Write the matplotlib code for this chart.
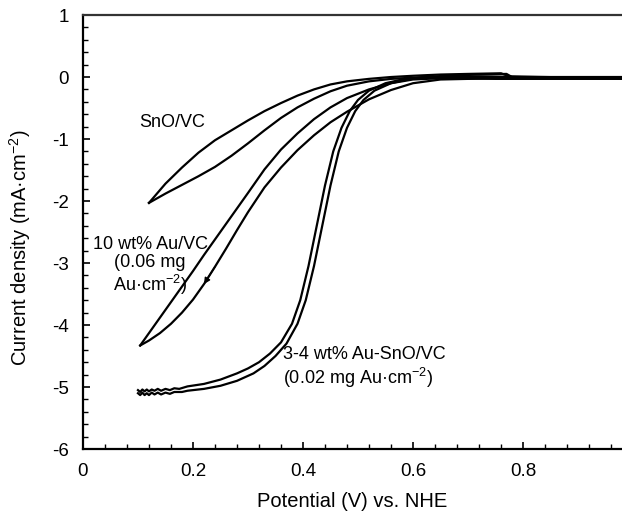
"""Linear sweep voltammograms (ORR) for SnO/VC, 10 wt% Au/VC and 3-4 wt% Au-SnO/VC
   -each loop is drawn as its two sweep branches, tip to the plateau
"""
import matplotlib
matplotlib.use('Agg')
import matplotlib.pyplot as plt
from matplotlib.ticker import MultipleLocator

plt.rcParams['font.family'] = ['Liberation Sans', 'DejaVu Sans']
plt.rcParams['mathtext.fontset'] = 'custom'
plt.rcParams['mathtext.rm'] = 'Liberation Sans'
plt.rcParams['axes.unicode_minus'] = False

#
##DATA (Potential V vs NHE, current density mA/cm2)
sno_up_V = [0.12, 0.15, 0.18, 0.21, 0.24, 0.27, 0.30, 0.33, 0.36, 0.39, 0.42, 0.45, 0.48,
            0.52, 0.56, 0.60, 0.65, 0.70, 0.76, 0.775, 0.85, 0.98]
sno_up_J = [-2.03, -1.72, -1.46, -1.22, -1.02, -0.86, -0.70, -0.55, -0.42, -0.30, -0.20, -0.12,
            -0.07, -0.03, 0.0, 0.02, 0.04, 0.05, 0.06, 0.01, 0.0, 0.0]
sno_lo_V = [0.12, 0.15, 0.18, 0.21, 0.24, 0.27, 0.30, 0.33, 0.36, 0.39, 0.42, 0.45, 0.48,
            0.52, 0.56, 0.60, 0.65, 0.72, 0.80, 0.98]
sno_lo_J = [-2.03, -1.88, -1.74, -1.60, -1.45, -1.27, -1.07, -0.86, -0.66, -0.49, -0.35, -0.23,
            -0.14, -0.07, -0.03, -0.01, 0.0, 0.01, 0.0, -0.01]

au_up_V = [0.104, 0.12, 0.14, 0.16, 0.18, 0.20, 0.22, 0.24, 0.26, 0.28, 0.30, 0.33, 0.36, 0.39,
           0.42, 0.45, 0.48, 0.52, 0.56, 0.60, 0.65, 0.75, 0.98]
au_up_J = [-4.33, -4.13, -3.88, -3.63, -3.38, -3.13, -2.87, -2.62, -2.37, -2.12, -1.87, -1.49,
           -1.17, -0.91, -0.68, -0.49, -0.34, -0.20, -0.10, -0.04, -0.02, -0.01, -0.01]
au_lo_V = [0.104, 0.12, 0.14, 0.16, 0.18, 0.20, 0.22, 0.24, 0.26, 0.28, 0.30, 0.33, 0.36, 0.39,
           0.42, 0.45, 0.48, 0.52, 0.56, 0.60, 0.65, 0.75, 0.98]
au_lo_J = [-4.33, -4.25, -4.13, -3.98, -3.80, -3.59, -3.34, -3.06, -2.77, -2.47, -2.18, -1.78,
           -1.46, -1.18, -0.94, -0.73, -0.56, -0.36, -0.21, -0.10, -0.04, -0.02, -0.02]

ausno_a_V = [0.100, 0.104, 0.108, 0.112, 0.116, 0.120, 0.125, 0.130, 0.136, 0.142, 0.150, 0.158,
             0.166, 0.175, 0.19, 0.22, 0.25, 0.28, 0.30, 0.32, 0.34, 0.36, 0.38, 0.395, 0.41,
             0.425, 0.44, 0.455, 0.47, 0.485, 0.50, 0.52, 0.55, 0.58, 0.62, 0.66, 0.72, 0.77,
             0.78, 0.98]
ausno_a_J = [-5.05, -5.08, -5.04, -5.07, -5.04, -5.07, -5.04, -5.06, -5.03, -5.06, -5.03, -5.05,
             -5.02, -5.03, -4.99, -4.95, -4.88, -4.78, -4.70, -4.60, -4.46, -4.28, -3.98, -3.60,
             -3.05, -2.40, -1.75, -1.20, -0.82, -0.55, -0.37, -0.22, -0.10, -0.04, 0.0, 0.02,
             0.04, 0.05, 0.0, -0.02]
ausno_b_V = [0.100, 0.104, 0.108, 0.112, 0.116, 0.120, 0.125, 0.130, 0.136, 0.142, 0.150, 0.158,
             0.166, 0.18, 0.19, 0.22, 0.25, 0.28, 0.31, 0.33, 0.35, 0.37, 0.39, 0.405, 0.42,
             0.435, 0.45, 0.465, 0.48, 0.495, 0.51, 0.53, 0.56, 0.59, 0.62, 0.66, 0.75, 0.98]
ausno_b_J = [-5.10, -5.13, -5.09, -5.13, -5.10, -5.13, -5.09, -5.12, -5.09, -5.12, -5.09, -5.11,
             -5.08, -5.08, -5.06, -5.03, -4.98, -4.90, -4.78, -4.66, -4.50, -4.30, -3.98, -3.60,
             -3.05, -2.40, -1.75, -1.20, -0.82, -0.55, -0.37, -0.22, -0.10, -0.04, 0.0, -0.02,
             -0.03, -0.03]

branches = [(sno_up_V, sno_up_J), (sno_lo_V, sno_lo_J),
            (au_up_V, au_up_J), (au_lo_V, au_lo_J),
            (ausno_a_V, ausno_a_J), (ausno_b_V, ausno_b_J)]

#
##GRAPH IT UP!
fig = plt.figure(figsize=(6.22, 5.16), dpi=100)
ax = fig.add_axes([0.1334, 0.1298, 0.8666, 0.8411])

for V, J in branches:
    ax.plot(V, J, color='black', lw=1.6, solid_joinstyle='round')

##small sweep-direction mark on the Au/VC loop
ax.annotate('', xy=(au_lo_V[6], au_lo_J[6]), xytext=(au_lo_V[7], au_lo_J[7]),
            arrowprops=dict(arrowstyle='-|>', color='black', lw=1.0, mutation_scale=9,
                            shrinkA=0, shrinkB=0))

ax.set_xlim(0, 0.98)
ax.set_ylim(-6, 1)
ax.xaxis.set_major_locator(MultipleLocator(0.2))
ax.xaxis.set_minor_locator(MultipleLocator(0.04))
ax.yaxis.set_major_locator(MultipleLocator(1))
ax.yaxis.set_minor_locator(MultipleLocator(0.2))
ax.set_xticks([0, 0.2, 0.4, 0.6, 0.8])
ax.set_xticklabels(['0', '0.2', '0.4', '0.6', '0.8'])
ax.set_yticks([1, 0, -1, -2, -3, -4, -5, -6])
ax.set_yticklabels(['1', '0', '-1', '-2', '-3', '-4', '-5', '-6'])

ax.tick_params(which='both', direction='in', labelsize=13.5, top=False, right=False)
ax.tick_params(which='major', length=5, width=1.2)
ax.tick_params(which='minor', length=3.5, width=1.0)
ax.tick_params(axis='x', pad=10)
ax.tick_params(axis='y', pad=10)

ax.spines['right'].set_visible(False)
for s in ['left', 'bottom', 'top']:
    ax.spines[s].set_linewidth(1.6)
ax.spines['top'].set_color('#333333')

ax.set_xlabel('Potential (V) vs. NHE', fontsize=14.5)
ax.set_ylabel('Current density (mA·cm$^{-2}$)', fontsize=14.5)
ax.xaxis.set_label_coords(0.5, -0.10)
ax.yaxis.set_label_coords(-0.092, 0.463)

##LABELS ON THE CURVES
ax.text(0.162, -0.73, 'SnO/VC', fontsize=13, ha='center', va='center')
ax.text(0.122, -3.06, '10 wt% Au/VC\n(0.06 mg\nAu·cm$^{-2}$)', fontsize=13,
        ha='center', va='center', multialignment='center', linespacing=1.1)
ax.text(0.364, -4.69, '3-4 wt% Au-SnO/VC\n(0.02 mg Au·cm$^{-2}$)', fontsize=13,
        ha='left', va='center', linespacing=1.15)

fig.savefig('out.png', dpi=100)
